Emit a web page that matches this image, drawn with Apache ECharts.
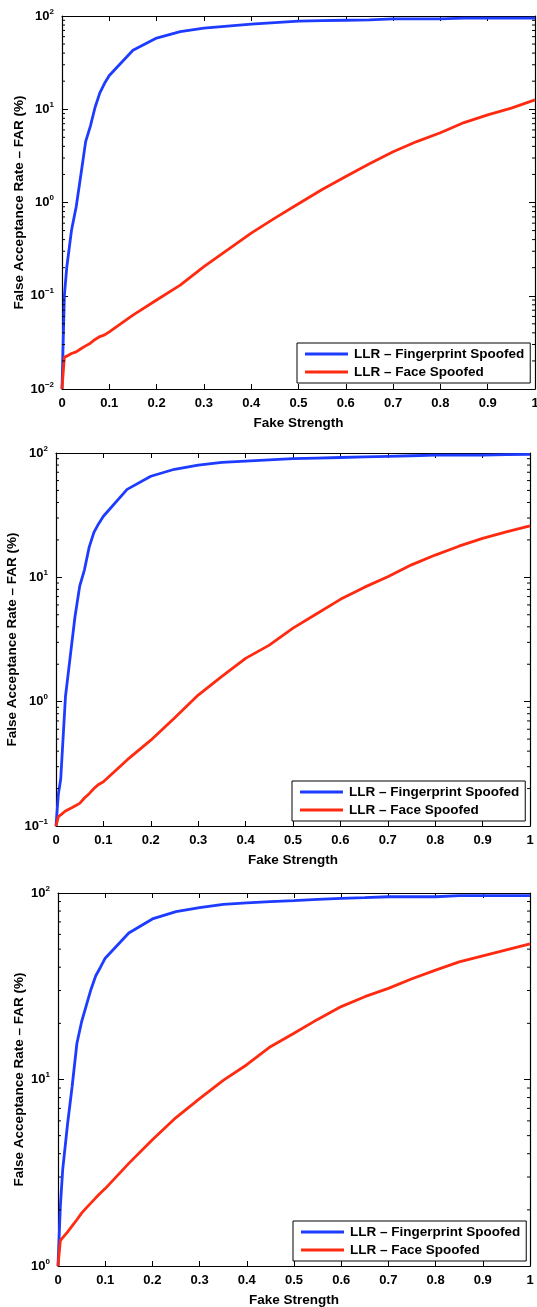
<!DOCTYPE html>
<html>
<head>
<meta charset="utf-8">
<script src="https://cdn.jsdelivr.net/npm/echarts@6/dist/echarts.min.js"></script>
<style>
  html, body { margin: 0; padding: 0; background: #fff; }
  #main { width: 537px; height: 1307px; }
</style>
</head>
<body>
<div id="main"></div>
<script>
// fake strength samples (shared by all three panels)
var strength = [0, 0.005, 0.01, 0.02, 0.03, 0.04, 0.05, 0.06, 0.07, 0.08, 0.09, 0.1,
  0.15, 0.2, 0.25, 0.3, 0.35, 0.4, 0.45, 0.5, 0.55, 0.6, 0.65, 0.7, 0.75, 0.8, 0.85, 0.9, 0.95, 1]

// panel 1
var fingerFar1 = [0.01, 0.1, 0.2, 0.5, 0.9, 2.0, 4.5, 6.6, 10.5, 15, 19, 23,
  43, 58, 68, 74, 78, 82, 85, 88, 89, 90, 91, 93, 93, 93, 95, 95, 95, 95]
var faceFar1 = [0.01, 0.022, 0.0225, 0.024, 0.025, 0.027, 0.029, 0.031, 0.034, 0.0365, 0.038, 0.041,
  0.062, 0.09, 0.13, 0.205, 0.31, 0.47, 0.68, 0.97, 1.38, 1.9, 2.6, 3.5, 4.5, 5.6, 7.2, 8.7, 10.3, 12.6]

// panel 2
var fingerFar2 = [0.1, 0.18, 0.24, 1.1, 2.3, 4.8, 8.5, 11.5, 17.5, 23, 27, 31,
  51, 65, 74, 80, 84, 86, 88, 90, 91, 92, 93, 94, 95, 96, 96, 96, 97, 97.5]
var faceFar2 = [0.1, 0.119, 0.123, 0.132, 0.138, 0.145, 0.152, 0.168, 0.182, 0.2, 0.216, 0.227,
  0.34, 0.49, 0.74, 1.13, 1.6, 2.23, 2.85, 3.9, 5.1, 6.65, 8.3, 10.1, 12.6, 15.1, 17.8, 20.6, 23.2, 25.9]

// panel 3
var fingerFar3 = [1.0, 2.1, 3.3, 5.7, 9.2, 15.6, 20.4, 25, 30.5, 36, 40, 44.7,
  61, 72.6, 79.4, 83.5, 87, 88.5, 89.8, 91, 92.5, 93.6, 94.5, 95.5, 95.5, 95.5, 96.8, 96.8, 96.8, 96.8]
var faceFar3 = [1.0, 1.37, 1.42, 1.52, 1.64, 1.77, 1.92, 2.05, 2.18, 2.32, 2.46, 2.6,
  3.55, 4.75, 6.25, 7.9, 9.9, 12.0, 15.0, 17.7, 21, 24.6, 27.8, 30.8, 34.7, 38.6, 42.7, 46, 49.5, 53.3]

var yMins = [0.01, 0.1, 1]
var yMax = 100
var minorSteps = [2, 3, 4, 5, 6, 7, 8, 9]

var nameFinger = 'LLR \u2013 Fingerprint Spoofed'
var nameFace = 'LLR \u2013 Face Spoofed'
var FONT = '"Liberation Sans", Arial, Helvetica, sans-serif'
var BLUE = '#1d3cff'
var RED = '#ff2a10'

var panels = [
  { finger: fingerFar1, face: faceFar1, grid: { left: 62, top: 16, width: 473, height: 373 }, nameGap: 36, legend: { left: 297, top: 343 } },
  { finger: fingerFar2, face: faceFar2, grid: { left: 56, top: 453, width: 474, height: 373 }, nameGap: 37, legend: { left: 292, top: 781 } },
  { finger: fingerFar3, face: faceFar3, grid: { left: 58, top: 893, width: 472, height: 373 }, nameGap: 32, legend: { left: 293, top: 1221 } }
]

function zip(xs, ys) {
  return xs.map(function (x, i) { return [x, ys[i]] })
}

function expLabel(v) {
  var e = Math.round(Math.log10(v))
  return '{b|10}{e|' + (e < 0 ? '\u2212' + (-e) : e) + '}'
}

var axisLine = { show: true, onZero: false, lineStyle: { color: '#000', width: 1.2 } }
var titleStyle = { fontFamily: FONT, fontWeight: 'bold', fontSize: 13.5, color: '#000' }

var option = {
  backgroundColor: '#fff',
  animation: false,
  grid: [],
  xAxis: [],
  yAxis: [],
  legend: [],
  series: []
}

panels.forEach(function (p, i) {
  var g = Object.assign({ containLabel: false, outerBoundsMode: 'none' }, p.grid)
  option.grid.push(g)
  var minY = yMins[i]
  // bottom x axis
  option.xAxis.push({
    type: 'value', gridIndex: i, min: 0, max: 1, interval: 0.1, position: 'bottom',
    name: 'Fake Strength', nameLocation: 'middle', nameGap: 27, nameMoveOverlap: false,
    nameTextStyle: titleStyle,
    axisLine: axisLine,
    axisTick: { inside: true, length: 5, lineStyle: { color: '#000' } },
    axisLabel: {
      margin: 8, fontFamily: FONT, fontWeight: 'bold', fontSize: 13, color: '#000',
      showMinLabel: true, showMaxLabel: true, hideOverlap: false,
      formatter: function (v) { return String(Math.round(v * 10) / 10) }
    },
    splitLine: { show: false }
  })
  // top x axis (box)
  option.xAxis.push({
    type: 'value', gridIndex: i, min: 0, max: 1, interval: 0.1, position: 'top',
    axisLine: axisLine,
    axisTick: { inside: true, length: 5, lineStyle: { color: '#000' } },
    axisLabel: { show: false },
    splitLine: { show: false }
  })
  // left y axis
  option.yAxis.push({
    type: 'log', logBase: 10, gridIndex: i, min: minY, max: yMax, position: 'left',
    name: 'False Acceptance Rate \u2013 FAR (%)', nameLocation: 'middle', nameGap: p.nameGap,
    nameMoveOverlap: false,
    nameTextStyle: titleStyle,
    axisLine: axisLine,
    axisTick: { inside: true, length: 6, lineStyle: { color: '#000' } },
    axisLabel: {
      margin: 8, color: '#000', showMinLabel: true, showMaxLabel: true,
      formatter: expLabel,
      rich: {
        b: { fontFamily: FONT, fontWeight: 'bold', fontSize: 13, color: '#000' },
        e: { fontFamily: FONT, fontWeight: 'bold', fontSize: 8, color: '#000', padding: [0, 0, 9, 0] }
      }
    },
    splitLine: { show: false }
  })
  // right y axis (box)
  option.yAxis.push({
    type: 'log', logBase: 10, gridIndex: i, min: minY, max: yMax, position: 'right',
    axisLine: axisLine,
    axisTick: { inside: true, length: 6, lineStyle: { color: '#000' } },
    axisLabel: { show: false },
    splitLine: { show: false }
  })

  option.legend.push({
    left: p.legend.left, top: p.legend.top, orient: 'vertical',
    data: [nameFinger, nameFace],
    icon: 'path://M0,0 L43,0 L43,3 L0,3 Z',
    itemWidth: 43, itemHeight: 14, itemGap: 4,
    padding: [4, 6, 4, 8],
    borderColor: '#000', borderWidth: 1, backgroundColor: '#fff',
    selectedMode: false,
    textStyle: { fontFamily: FONT, fontWeight: 'bold', fontSize: 13.5, color: '#000', padding: [0, 0, 0, 1] }
  })

  option.series.push({
    name: nameFinger, type: 'line', xAxisIndex: 2 * i, yAxisIndex: 2 * i,
    data: zip(strength, p.finger), symbol: 'none', smooth: false,
    color: BLUE, lineStyle: { color: BLUE, width: 2.8 }
  })
  option.series.push({
    name: nameFace, type: 'line', xAxisIndex: 2 * i, yAxisIndex: 2 * i,
    data: zip(strength, p.face), symbol: 'none', smooth: false,
    color: RED, lineStyle: { color: RED, width: 2.8 }
  })

  // minor log ticks (2..9 per decade) on left and right edges
  var minorVals = []
  for (var d = minY; d < yMax; d *= 10) {
    minorSteps.forEach(function (m) { minorVals.push([0, m * d]) })
  }
  option.series.push({
    type: 'custom', xAxisIndex: 2 * i, yAxisIndex: 2 * i, silent: true, z: 5,
    data: minorVals,
    renderItem: function (params, api) {
      var v = api.value(1)
      var l = api.coord([0, v])
      var r = api.coord([1, v])
      var st = { stroke: '#000', lineWidth: 1 }
      return {
        type: 'group',
        children: [
          { type: 'line', shape: { x1: l[0], y1: l[1], x2: l[0] + 3, y2: l[1] }, style: st },
          { type: 'line', shape: { x1: r[0] - 3, y1: r[1], x2: r[0], y2: r[1] }, style: st }
        ]
      }
    }
  })
})

var myChart = echarts.init(document.getElementById('main'))
myChart.setOption(option)
</script>
</body>
</html>
